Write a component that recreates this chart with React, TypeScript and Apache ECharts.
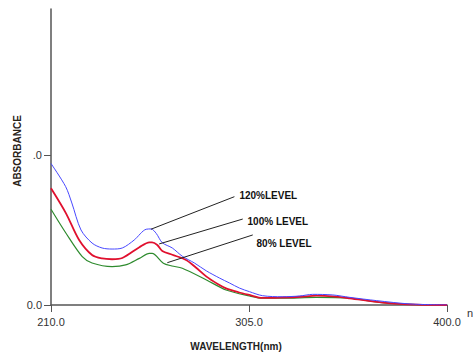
import React, { useEffect, useRef } from "react";
import * as echarts from "echarts";

// Wavelength (nm) / absorbance pairs
const level120: [number, number][] = [
  [210, 0.943], [217, 0.79], [220, 0.68], [224.4, 0.5], [229.7, 0.413], [234.5, 0.38],
  [239.3, 0.373], [244.2, 0.38], [249.9, 0.433], [255.7, 0.505], [258, 0.507],
  [260.5, 0.477], [263.4, 0.415], [268.2, 0.38], [273, 0.325], [278.8, 0.28],
  [284.6, 0.227], [290.8, 0.18], [295.6, 0.147], [300.4, 0.113], [305.2, 0.089],
  [311.5, 0.062], [321, 0.055], [329.3, 0.06], [335.5, 0.071], [345.2, 0.067],
  [353.3, 0.051], [366.3, 0.029], [382.2, 0.007], [400, 0],
];
const level100: [number, number][] = [
  [210, 0.778], [217.2, 0.611], [223.5, 0.433], [229.7, 0.333], [234.5, 0.31],
  [239.3, 0.305], [244.2, 0.313], [252.4, 0.385], [257.2, 0.418], [258.5, 0.418],
  [261, 0.4], [263.4, 0.36], [268.2, 0.335], [274.8, 0.3], [279.5, 0.25],
  [284.6, 0.189], [290, 0.14], [294, 0.111], [300, 0.085], [305.2, 0.067],
  [311.5, 0.047], [321, 0.05], [330, 0.055], [337.3, 0.062], [345, 0.058],
  [353.3, 0.045], [369.2, 0.016], [385.6, 0.002], [400, 0],
];
const level80: [number, number][] = [
  [210, 0.638], [217.2, 0.478], [225, 0.322], [229.7, 0.28], [239.3, 0.256],
  [245.8, 0.267], [252.4, 0.311], [257.2, 0.344], [258.5, 0.344], [263.9, 0.278],
  [268, 0.26], [273, 0.245], [284.6, 0.167], [294, 0.1], [305.2, 0.06],
  [311.5, 0.045], [321, 0.045], [337.3, 0.051], [353.3, 0.045], [369, 0.016],
  [385, 0.002], [400, 0],
];
const xTicks = [210, 305, 400];
const yTicks = [0, 1];
const labels = ["120%LEVEL", "100% LEVEL", "80% LEVEL"];
// leader line start/end and label anchor, in data units
const leaderFrom: [number, number][] = [[257.95, 0.505], [261.9, 0.407], [265.8, 0.282]];
const leaderTo: [number, number][] = [[298.0, 0.722], [302.0, 0.573], [306.8, 0.467]];
const labelAt: [number, number][] = [[300.4, 0.727], [304.3, 0.557], [308.6, 0.411]];

export default function App() {
  const ref = useRef<HTMLDivElement>(null);
  useEffect(() => {
    if (!ref.current) return;
    const chart = echarts.init(ref.current, null, { renderer: "svg" });
    const datasets = [level120, level100, level80];
    const colors = ["#4848ff", "#e0102e", "#2e8b2e"];
    const widths = [1, 1.8, 1.2];
    const series: any[] = datasets.map((d, i) => ({
      type: "line",
      data: d,
      smooth: 0.3,
      showSymbol: false,
      symbol: "none",
      lineStyle: { color: colors[i], width: widths[i] },
      z: 3 - i,
      markLine: {
        silent: true,
        symbol: ["none", "none"],
        label: { show: false },
        lineStyle: { color: "#222", width: 1, type: "solid" },
        data: [[{ coord: leaderFrom[i] }, { coord: leaderTo[i] }]],
      },
      markPoint: {
        silent: true,
        symbol: "circle",
        symbolSize: 0,
        data: [{ coord: labelAt[i] }],
        label: {
          show: true,
          position: "right",
          distance: 0,
          formatter: labels[i],
          color: "#111",
          fontFamily: "Liberation Sans",
          fontWeight: "bold",
          fontSize: 10,
        },
      },
    }));
    chart.setOption({
      animation: false,
      backgroundColor: "#ffffff",
      grid: { left: 51, right: 26, top: 9, bottom: 47 },
      xAxis: {
        type: "value",
        min: 210,
        max: 400,
        splitLine: { show: false },
        axisLine: { lineStyle: { color: "#555", width: 1.5 } },
        axisTick: { customValues: xTicks, length: 7, lineStyle: { color: "#555" } },
        axisLabel: {
          customValues: xTicks,
          formatter: (v: number) => v.toFixed(1),
          color: "#333",
          fontFamily: "Liberation Sans",
          fontSize: 11,
          margin: 11,
        },
      },
      yAxis: {
        type: "value",
        min: 0,
        max: 1.973,
        splitLine: { show: false },
        axisLine: { show: true, lineStyle: { color: "#555", width: 1.5 } },
        axisTick: { show: true, customValues: yTicks, length: 7, lineStyle: { color: "#555" } },
        axisLabel: {
          customValues: yTicks,
          formatter: (v: number) => (v === 0 ? "0.0" : ".0"),
          color: "#333",
          fontFamily: "Liberation Sans",
          fontSize: 11,
          margin: 9,
        },
      },
      graphic: [
        {
          type: "text",
          x: 17,
          y: 151,
          rotation: Math.PI / 2,
          style: {
            text: "ABSORBANCE",
            fill: "#2a2218",
            font: "bold 10px 'Liberation Sans'",
            textAlign: "center",
            textVerticalAlign: "middle",
          },
        },
        {
          type: "text",
          x: 236,
          y: 346,
          style: {
            text: "WAVELENGTH(nm)",
            fill: "#222",
            font: "bold 10px 'Liberation Sans'",
            textAlign: "center",
            textVerticalAlign: "middle",
          },
        },
        {
          type: "text",
          x: 467,
          y: 313,
          style: {
            text: "nm",
            fill: "#333",
            font: "11px 'Liberation Sans'",
            textAlign: "left",
            textVerticalAlign: "middle",
          },
        },
      ],
      series,
    });
    return () => chart.dispose();
  }, []);
  return <div ref={ref} style={{ width: 473, height: 352, position: "absolute", left: 0, top: 0 }} />;
}
